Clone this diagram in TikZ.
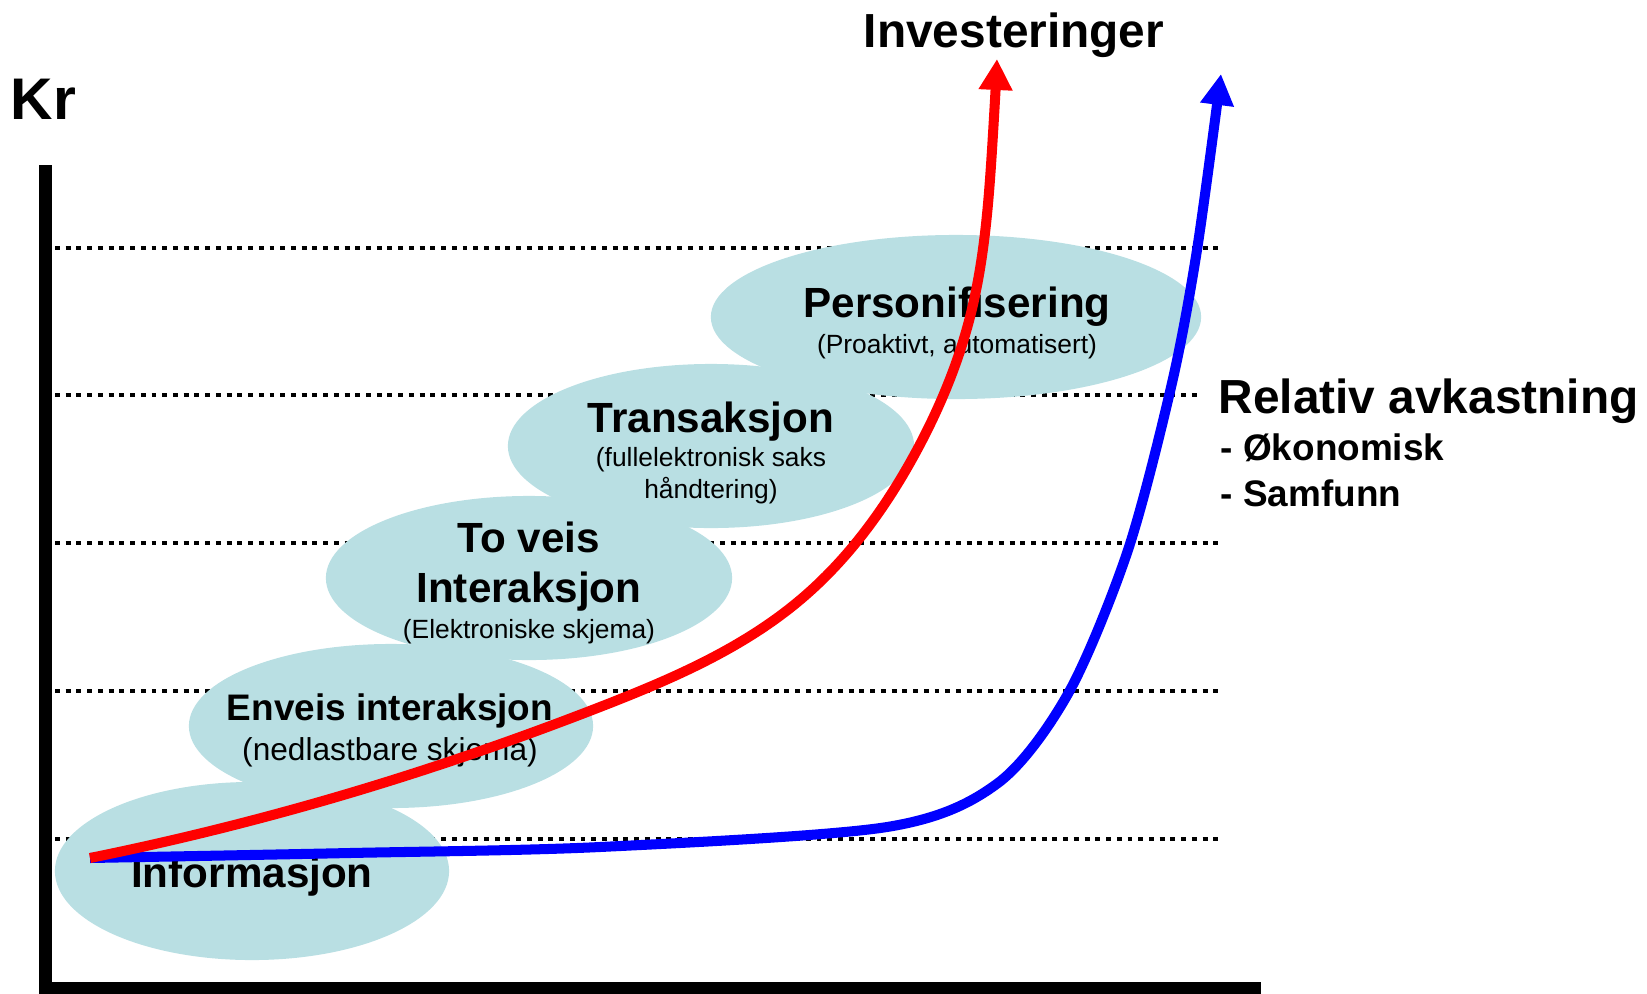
\documentclass[tikz,border=0pt]{standalone}
\usepackage{fontspec}
\setmainfont{Liberation Sans}
\usetikzlibrary{arrows.meta,shapes.geometric,hobby}
\definecolor{fasefarge}{RGB}{185,223,227}

\begin{document}
\begin{tikzpicture}[x=0.01cm,y=-0.01cm,>={Triangle[length=8.8pt,width=9.1pt]},
            fase/.style={ellipse,fill=fasefarge,inner sep=0pt},
            tittel/.style={anchor=base,inner sep=0pt,font=\bfseries\fontsize{12}{14}\selectfont},
            forklaring/.style={anchor=base,inner sep=0pt,font=\fontsize{7.5}{9}\selectfont},
            overskrift/.style={inner sep=0pt,font=\bfseries\fontsize{13.6}{16}\selectfont},
            punkt/.style={anchor=base west,inner sep=0pt,font=\bfseries\fontsize{10.5}{12}\selectfont},
            nivaa/.style={line width=1.4pt,dash pattern=on 1.4pt off 1.65pt},
            kurve/.style={->,line width=2.85pt}]
            \useasboundingbox (0,0) rectangle (1647,993);

            % nivaalinjer
            \foreach \y/\slutt in {248/1221,395/1202,543/1221,691/1221,839/1221}
                \draw[nivaa] (55,\y) -- (\slutt,\y);

            % akser
            \coordinate (ytopp) at (45.5,165);
            \coordinate (xslutt) at (1261,988);
            \draw[line width=3.7pt] (ytopp) |- (xslutt);

            \node[fase,minimum width=3.94cm,minimum height=1.78cm] (info) at (252,871) {};
            \node[fase,minimum width=4.04cm,minimum height=1.64cm] (enveis) at (391,726) {};
            \node[fase,minimum width=4.06cm,minimum height=1.64cm] (toveis) at (529,578) {};
            \node[fase,minimum width=4.06cm,minimum height=1.64cm] (trans) at (711,446) {};
            \node[fase,minimum width=4.9cm,minimum height=1.64cm] (pers) at (956,317) {};

            \node[tittel] (infotekst) at (252,887) {Informasjon};
            \node[tittel,font=\bfseries\fontsize{10.5}{12}\selectfont] (enveistekst) at (390,720) {Enveis interaksjon};
            \node[forklaring,font=\fontsize{9}{11}\selectfont] (enveisforkl) at (390,760) {(nedlastbare skjema)};
            \node[tittel] (toveistekst) at (529,552) {To veis};
            \node[tittel] (toveistekst2) at (529,602) {Interaksjon};
            \node[forklaring] (toveisforkl) at (529,638) {(Elektroniske skjema)};
            \node[tittel] (transtekst) at (711,432) {Transaksjon};
            \node[forklaring] (transforkl) at (711,466) {(fullelektronisk saks};
            \node[forklaring] (transforkl2) at (711,498) {håndtering)};
            \node[tittel] (perstekst) at (957,317) {Personifisering};
            \node[forklaring] (persforkl) at (957,353) {(Proaktivt, automatisert)};

            \node[anchor=base west,inner sep=0pt,font=\bfseries\fontsize{16.7}{20}\selectfont] (kr) at (10,119) {Kr};
            \node[overskrift,anchor=base] (inv) at (1014,47) {Investeringer};
            \node[overskrift,anchor=base west] (avk) at (1218,413) {Relativ avkastning};
            \node[punkt] (okonomisk) at (1220,460) {- Økonomisk};
            \node[punkt] (samfunn) at (1220,506) {- Samfunn};

            % kurver
            \coordinate (start) at (90,858);
            \coordinate (invtopp) at (997,59);
            \coordinate (avktopp) at (1221,74);
            \draw[kurve,blue] plot[smooth] coordinates {(start) (350,853) (600,847) (887,827)
                (998,783) (1069,692) (1128,550) (1172,383) (1197,250) (avktopp)};
            \draw[kurve,red,use Hobby shortcut] (start) .. (383,783) .. (600,707) .. (800,600)
                .. (917,450) .. (970,317) .. (992,150) .. (invtopp);
\end{tikzpicture}
\end{document}
